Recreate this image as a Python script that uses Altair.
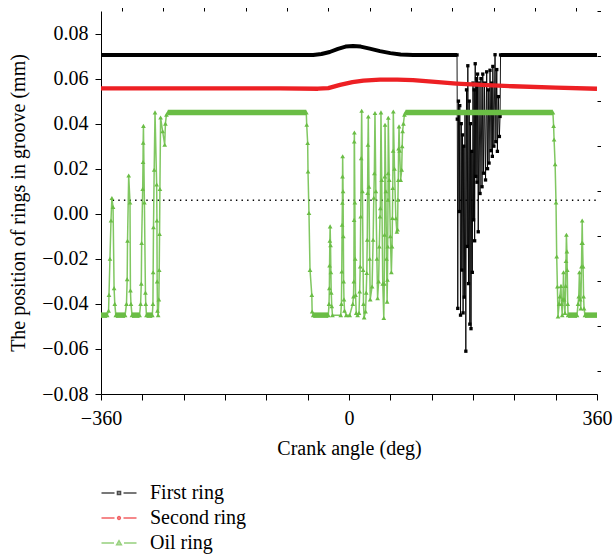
import altair as alt
import pandas as pd

SERIES = ["First ring", "Second ring", "Oil ring"]
COLORS = ["#000000", "#ED2024", "#6ABD45"]
FONT = "Liberation Serif"

# ---------------- First ring ----------------
first_band1_x = [-360, -52, -40, -28, -16, -5, 6, 17, 30, 45, 60, 75, 93, 156.8]
first_band1_y = [0.0705, 0.0705, 0.0709, 0.0718, 0.0732, 0.0742, 0.0745, 0.0742, 0.0733, 0.0722,
                 0.0713, 0.0707, 0.0705, 0.0705]
first_chaos_x = [156.8, 157.2, 157.9, 158.9, 160.0, 160.8, 161.9, 162.9, 163.7, 164.8, 165.6, 166.5,
                 167.4, 168.4, 169.6, 170.6, 171.7, 172.5, 173.5, 174.5, 175.4, 176.4, 177.1, 178.2,
                 179.0, 180.0, 180.8, 181.8, 182.4, 183.2, 184.1, 185.1, 185.8, 186.6, 187.6, 188.7,
                 190.2, 191.6, 193.1, 194.2, 195.3, 196.7, 198.2, 199.9, 201.1, 202.2, 203.3, 204.7,
                 206.2, 207.2, 208.1, 208.8, 210.3, 212.0, 213.2, 214.5, 215.4, 216.8, 218.3, 219.3,
                 220.0]
first_chaos_y = [0.0705, 0.042, -0.042, 0.050, 0.001, 0.048, -0.045, 0.040, -0.025, 0.035, -0.044, 0.030,
                 -0.037, 0.045, -0.061, 0.055, -0.0145, 0.0657, -0.031, 0.050, -0.049, 0.040, -0.051, 0.0277,
                 -0.026, 0.058, -0.0027, 0.055, -0.012, 0.0666, 0.0166, 0.060, 0.014, 0.062, -0.008, 0.058,
                 0.009, 0.060, 0.012, 0.062, 0.018, 0.058, 0.015, 0.063, 0.020, 0.055, 0.0225, 0.0637,
                 0.028, 0.058, 0.0255, 0.0654, 0.030, 0.0706, 0.032, 0.064, 0.0277, 0.052, 0.0343, 0.0432,
                 0.0705]
first_band2_x = [220.0, 360]
first_band2_y = [0.0705, 0.0705]

# ---------------- Second ring ----------------
second_x = [-360, -200, -100, -45, -30, -13, 5, 21, 45, 70, 93, 125, 156, 200, 238, 300, 360]
second_y = [0.0557, 0.0557, 0.0557, 0.0555, 0.0558, 0.0572, 0.0584, 0.0591, 0.0595, 0.0595, 0.0593,
            0.0585, 0.0578, 0.0571, 0.0566, 0.0560, 0.0555]

# ---------------- Oil ring ----------------
oil_b1_x = [-360, -351]
oil_b1_y = [-0.045, -0.045]
oil_s1_x = [-351, -349, -348.4, -347, -345.5, -344.2, -342.5, -341, -340, -338.5]
oil_s1_y = [-0.045, -0.043, -0.036, -0.020, -0.003, 0.007, 0.003, -0.033, -0.040, -0.045]
oil_b2_x = [-338.5, -325]
oil_b2_y = [-0.045, -0.045]
oil_s2_x = [-325, -323, -322, -321.5, -319.8, -317.9, -317.3, -316.5, -315]
oil_s2_y = [-0.045, -0.040, -0.029, -0.012, 0.017, 0.005, -0.034, -0.040, -0.045]
oil_b3_x = [-315, -304]
oil_b3_y = [-0.045, -0.045]
oil_s3_x = [-304, -302.5, -301.5, -301, -299.5, -299, -298.8, -298.4, -297, -295.5, -295, -294]
oil_s3_y = [-0.045, -0.040, -0.031, -0.013, 0.011, 0.023, 0.0315, 0.039, 0.005, -0.035, -0.040, -0.045]
oil_b4_x = [-294, -285.5]
oil_b4_y = [-0.045, -0.045]
oil_s4_x = [-285.5, -284.6, -284.3, -283.8, -282.8, -281.6, -279.2, -278.8, -278.5, -278, -277,
            -276, -275.5, -275, -274.5, -273.5, -270.5, -267.5, -266.5, -265, -263]
oil_s4_y = [-0.045, -0.040, -0.026, -0.006, 0.0195, 0.045, 0.013, -0.003, -0.030, -0.043, -0.045,
            -0.038, -0.025, -0.009, 0.011, 0.0427, 0.0366, 0.0306, 0.040, 0.044, 0.045]
oil_b5_x = [-263, -62]
oil_b5_y = [0.045, 0.045]
oil_s5_x = [-62, -61.4, -60, -59.5, -58.1, -56.6, -54, -53.5, -52]
oil_s5_y = [0.045, 0.0395, 0.0314, 0.0188, 0.0003, -0.0249, -0.036, -0.0434, -0.045]
oil_b6_x = [-52, -30]
oil_b6_y = [-0.045, -0.045]
oil_s6_x = [-30, -29, -28.5, -28.2, -27.8, -27.4, -26.8, -26.3, -25.8, -25, -24,
            -12, -11, -10.5, -10, -9.6, -9.4, -9.2, -8.6, -8.2, -7.8, -7.3, -6.5, -4,
            1, 5.5, 6.5, 7, 7.4, 7.6, 7.8, 8.5, 9, 9.5, 10.5, 12.5,
            14.5, 15.5, 16.3, 17, 17.7, 18.4, 19.5, 20.5, 21, 22,
            24, 25, 25.8, 26.5, 27, 27.5, 28, 29, 30, 30.8,
            33.5, 35, 36, 36.8, 37.7, 39, 40.5, 41.5,
            43, 44, 45, 45.5, 46.4, 47.5, 49, 50.5,
            51.2, 51.6, 52, 52.3, 53.5, 54.5, 55.3,
            55.8, 56.2, 56.6, 56.8, 57, 58.5, 60, 61.5,
            62.5, 63, 63.5, 64, 64.3, 66, 68, 69.5,
            70.5, 71, 71.5, 72, 72.6, 73.5, 75,
            76.5, 77.2, 77.8, 79, 80.5, 82]
oil_s6_y = [-0.045, -0.040, -0.033, -0.023, -0.012, -0.0056, -0.014, -0.026, -0.035, -0.041, -0.045,
            -0.045, -0.040, -0.0256, -0.0049, 0.0049, 0.0166, 0.0255, 0.010, -0.010, -0.030, -0.038, -0.043, -0.045,
            -0.045, -0.040, -0.0367, -0.030, -0.0027, 0.0321, 0.0361, 0.005, -0.020, -0.036, -0.044, -0.045,
            -0.044, -0.0345, -0.0234, -0.0012, 0.0247, 0.0457, 0.010, -0.025, -0.040, -0.046,
            -0.0434, -0.035, -0.0263, -0.0115, 0.0092, 0.0306, 0.0432, 0.012, -0.020, -0.038,
            -0.0323, -0.0115, 0.0071, 0.018, 0.0447, 0.010, -0.020, -0.0375,
            -0.030, -0.0145, -0.0012, 0.0025, 0.045, 0.015, -0.031, -0.0463,
            -0.031, -0.0093, 0.0166, 0.0395, 0.010, -0.020, -0.039,
            -0.0293, -0.0145, 0.0062, 0.018, 0.0426, 0.015, -0.010, -0.026,
            -0.0145, -0.0019, 0.0114, 0.028, 0.0454, 0.020, -0.002, -0.008,
            -0.007, 0.0062, 0.015, 0.029, 0.0388, 0.028, 0.015,
            0.0195, 0.030, 0.0366, 0.040, 0.044, 0.045]
oil_b7_x = [82, 296]
oil_b7_y = [0.045, 0.045]
oil_s7_x = [296, 297, 297.7, 299.2, 300.5, 301.5, 302.5, 303.4, 305, 306, 307.7, 308.5, 309.5, 310.5,
            311.4, 312.3, 313.5, 314.5, 315, 315.6, 316.3, 316.8, 317.5, 318]
oil_s7_y = [0.045, 0.039, 0.033, 0.022, 0.005, -0.019, -0.0323, -0.0456, -0.040, -0.0367, -0.032,
            -0.040, -0.045, -0.038, -0.026, -0.038, -0.044, -0.032, -0.021, -0.0093, -0.0167, -0.025,
            -0.040, -0.045]
oil_b8_x = [318, 331]
oil_b8_y = [-0.045, -0.045]
oil_s8_x = [331, 332.5, 333.5, 334.5, 335.5, 336.5, 337.5, 338, 338.5, 339, 339.8, 340.5, 341.2, 342.5]
oil_s8_y = [-0.045, -0.040, -0.0367, -0.026, -0.038, -0.042, -0.0234, -0.013, -0.003, -0.013, -0.0234,
            -0.0367, -0.042, -0.045]
oil_b9_x = [342.5, 360]
oil_b9_y = [-0.045, -0.045]

# Dotted reference line
dotted_y = [0.006]
dotted_x = [-343]
dotted_x2 = [360]

# Axis tick values
y_major = [-0.08, -0.06, -0.04, -0.02, 0.0, 0.02, 0.04, 0.06, 0.08]
y_minor = [-0.07, -0.05, -0.03, -0.01, 0.01, 0.03, 0.05, 0.07, 0.09]
x_major = [-360, -300, -240, -180, -120, -60, 0, 60, 120, 180, 240, 300, 360]
x_minor = [-330, -270, -210, -150, -90, -30, 30, 90, 150, 210, 270, 330]

segments = [
    ("First ring", "band", first_band1_x, first_band1_y),
    ("First ring", "thin", first_chaos_x, first_chaos_y),
    ("First ring", "band", first_band2_x, first_band2_y),
    ("Second ring", "band", second_x, second_y),
    ("Oil ring", "band", oil_b1_x, oil_b1_y),
    ("Oil ring", "thin", oil_s1_x, oil_s1_y),
    ("Oil ring", "band", oil_b2_x, oil_b2_y),
    ("Oil ring", "thin", oil_s2_x, oil_s2_y),
    ("Oil ring", "band", oil_b3_x, oil_b3_y),
    ("Oil ring", "thin", oil_s3_x, oil_s3_y),
    ("Oil ring", "band", oil_b4_x, oil_b4_y),
    ("Oil ring", "thin", oil_s4_x, oil_s4_y),
    ("Oil ring", "band", oil_b5_x, oil_b5_y),
    ("Oil ring", "thin", oil_s5_x, oil_s5_y),
    ("Oil ring", "band", oil_b6_x, oil_b6_y),
    ("Oil ring", "thin", oil_s6_x, oil_s6_y),
    ("Oil ring", "band", oil_b7_x, oil_b7_y),
    ("Oil ring", "thin", oil_s7_x, oil_s7_y),
    ("Oil ring", "band", oil_b8_x, oil_b8_y),
    ("Oil ring", "thin", oil_s8_x, oil_s8_y),
    ("Oil ring", "band", oil_b9_x, oil_b9_y),
]

rows = []
for k, (s, kind, xs, ys) in enumerate(segments):
    for i, (xv, yv) in enumerate(zip(xs, ys)):
        rows.append({"series": s, "kind": kind, "seg": k, "i": i, "x": xv, "y": yv})
df = pd.DataFrame(rows)

XS = alt.Scale(domain=[-360, 360], nice=False, zero=False)
YS = alt.Scale(domain=[-0.08, 0.09], nice=False, zero=False)

base = alt.Chart(df)


def xenc(axis=None):
    return alt.X("x:Q", scale=XS, axis=axis)


def yenc(axis=None):
    return alt.Y("y:Q", scale=YS, axis=axis)


x_axis_main = alt.Axis(values=x_major, format="d", tickSize=6, labelPadding=8, labelFlush=False,
                       labelExpr="(datum.value == 0 || datum.value == 360 || datum.value == -360) ? datum.label : ''",
                       title="Crank angle (deg)", titlePadding=10)
x_axis_minor = alt.Axis(values=x_minor, tickSize=3.5, labels=False, domain=False, title=None)
y_axis_main = alt.Axis(values=y_major, format=".2f", tickSize=6, labelPadding=7,
                       title="The position of rings in groove (mm)", titlePadding=13)
y_axis_minor = alt.Axis(values=y_minor, tickSize=3.5, labels=False, domain=False, title=None)

dotted = alt.Chart(pd.DataFrame({"x": dotted_x, "x2": dotted_x2, "y": dotted_y})).mark_rule(
    color="black", strokeDash=[1.4, 4.2], strokeWidth=1.3
).encode(x=xenc(x_axis_main), x2="x2:Q", y=yenc(y_axis_main))

dotted_minor = alt.Chart(pd.DataFrame({"x": dotted_x, "x2": dotted_x2, "y": dotted_y})).mark_rule(
    opacity=0
).encode(x=xenc(x_axis_minor), y=yenc(y_axis_minor))


def series_layers(name, color, band_w, thin_w, marker, thin_op):
    sub = base.transform_filter(alt.datum.series == name)
    layers = []
    band = sub.transform_filter(alt.datum.kind == "band").mark_line(
        color=color, strokeWidth=band_w, strokeJoin="round"
    ).encode(x=xenc(), y=yenc(), detail="seg:N", order="i:Q")
    layers.append(band)
    if thin_w:
        thin_src = sub.transform_filter(alt.datum.kind == "thin")
        thin = thin_src.mark_line(color=color, strokeWidth=thin_w, opacity=thin_op).encode(
            x=xenc(), y=yenc(), detail="seg:N", order="i:Q")
        layers.append(thin)
        if marker == "square":
            pts = thin_src.mark_square(color=color, size=11, opacity=1)
        else:
            pts = thin_src.mark_point(shape="triangle-up", filled=True, color=color, size=22, opacity=1)
        layers.append(pts.encode(x=xenc(), y=yenc()))
    return layers


PATHS = [
    "M-3.5,0H-0.9M0.9,0H3.5M-0.33,-0.33H0.33V0.33H-0.33Z",
    "M-3.5,0H-0.9M0.9,0H3.5M0.3,0A0.3,0.3,0,1,1,-0.3,0A0.3,0.3,0,1,1,0.3,0Z",
    "M-3.5,0H-1M1,0H3.5M0,-0.5L0.5,0.38H-0.5Z",
]

leg = alt.Legend(title=None, orient="none", legendX=8, legendY=472, symbolSize=100,
                 labelOffset=21, rowPadding=5, symbolStrokeWidth=1.3,
                 labelFont=FONT, labelFontSize=20, labelColor="black", labelLimit=300)

legend_layer = alt.Chart(pd.DataFrame({"series": SERIES})).transform_filter("false").mark_point(
    filled=True, size=100
).encode(
    fill=alt.Fill("series:N", scale=alt.Scale(domain=SERIES, range=COLORS), legend=leg),
    stroke=alt.Stroke("series:N", scale=alt.Scale(domain=SERIES, range=COLORS), legend=leg),
    shape=alt.Shape("series:N", scale=alt.Scale(domain=SERIES, range=PATHS), legend=leg),
)

layers = [dotted, dotted_minor]
layers += series_layers("First ring", COLORS[0], 4, 1.0, "square", 0.9)
layers += series_layers("Second ring", COLORS[1], 4.3, None, None, 1)
layers += series_layers("Oil ring", COLORS[2], 5.5, 1.5, "triangle", 0.85)
layers.append(legend_layer)

chart = alt.layer(*layers).resolve_axis(x="independent", y="independent").properties(
    width=496, height=383,
    autosize=alt.AutoSizeParams(type="none"),
    padding={"left": 101, "top": 11, "right": 19, "bottom": 165},
    background="white",
).configure_view(stroke=None).configure_axis(
    grid=False, domainColor="black", tickColor="black", domainWidth=1, tickWidth=1,
    labelFont=FONT, labelFontSize=20, labelColor="black",
    titleFont=FONT, titleFontSize=20, titleFontWeight="normal", titleColor="black",
)

chart.save("out.html", embed_options={"renderer": "svg", "actions": False})
